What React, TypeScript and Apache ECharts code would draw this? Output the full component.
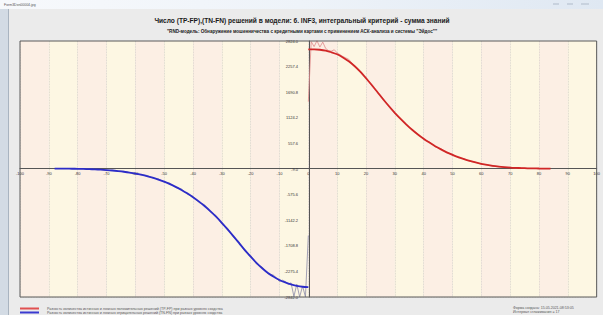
import { useEffect, useRef } from "react";
import * as echarts from "echarts";

const TITLE = "Число (TP-FP),(TN-FN) решений в модели: 6. INF3, интегральный критерий - сумма знаний";
const SUBTITLE = '"RND-модель: Обнаружение мошенничества с кредитными картами с применением АСК-анализа и системы "Эйдос""';
const WINDOW_TITLE = "Form3Dxn00004.jpg";
const LEGEND_RED = "Разность количества истинных и ложных положительных решений (TP-FP) при разных уровнях сходства";
const LEGEND_BLUE = "Разность количества истинных и ложных отрицательных решений (TN-FN) при разных уровнях сходства";
const INFO_1 = "Форма создана: 15.05.2021-08:53:05";
const INFO_2 = "Интервал сглаживания = 17";

// Y axis range / ticks
const Y_MIN = -2842.0;
const Y_MAX = 2824.0;
const Y_STEP = 566.6;

// Smoothed (TP-FP), x = 0..84
const redX = [0, 2, 4, 6, 8, 10, 12, 14, 16, 18, 20, 22, 24, 26, 28, 30, 32, 34, 36, 38, 40, 42, 44, 46, 48, 50, 52, 54, 56, 58, 60, 62, 64, 66, 68, 70, 72, 74, 76, 78, 80, 82, 84];
const redSmooth = [2640, 2640, 2630, 2610, 2575, 2530, 2460, 2375, 2270, 2145, 2000, 1850, 1690, 1530, 1380, 1235, 1100, 975, 860, 755, 660, 575, 495, 425, 360, 305, 255, 210, 170, 135, 105, 80, 60, 45, 33, 23, 16, 11, 7, 4, 2, 1, 0];

// Raw (TP-FP)
const redRawX = [0, 1, 2, 3, 4, 5, 6, 7, 8, 9, 10, 12, 14, 16, 18, 20, 22, 24, 26, 28, 30, 32, 34, 36, 38, 40, 42, 44, 46, 48, 50, 52, 54, 56, 58, 60, 62, 64, 66, 68, 70, 72, 74, 76, 78, 80];
const redRaw = [1480, 2810, 2700, 2830, 2690, 2800, 2660, 2610, 2600, 2630, 2560, 2480, 2420, 2270, 2160, 2030, 1830, 1700, 1550, 1360, 1210, 1110, 990, 850, 770, 640, 590, 480, 440, 350, 320, 240, 220, 160, 140, 95, 85, 50, 50, 25, 28, 10, 12, 4, 2, 0];

// Smoothed (TN-FN), x = -88..0
const blueX = [-88, -86, -84, -82, -80, -78, -76, -74, -72, -70, -68, -66, -64, -62, -60, -58, -56, -54, -52, -50, -48, -46, -44, -42, -40, -38, -36, -34, -32, -30, -28, -26, -24, -22, -20, -18, -16, -14, -12, -10, -8, -6, -4, -2, 0];
const blueSmooth = [0, -1, -2, -3, -5, -8, -12, -17, -24, -32, -42, -55, -70, -88, -110, -136, -166, -202, -243, -290, -343, -404, -472, -548, -632, -725, -828, -940, -1065, -1200, -1345, -1495, -1650, -1805, -1950, -2085, -2205, -2310, -2395, -2465, -2520, -2565, -2595, -2615, -2625];

// Raw (TN-FN)
const blueRawX = [-82, -80, -78, -76, -74, -72, -70, -68, -66, -64, -62, -60, -58, -56, -54, -52, -50, -48, -46, -44, -42, -40, -38, -36, -34, -32, -30, -28, -26, -24, -22, -20, -18, -16, -14, -12, -10, -9, -8, -7, -6, -5, -4, -3, -2, -1, 0];
const blueRaw = [0, -3, -8, -8, -18, -20, -35, -35, -55, -60, -90, -100, -140, -150, -210, -225, -300, -320, -420, -450, -570, -610, -750, -800, -960, -1040, -1230, -1320, -1520, -1620, -1830, -1920, -2110, -2180, -2330, -2360, -2500, -2470, -2500, -2560, -2530, -2830, -2560, -2840, -2600, -2840, -1480];

const pairs = (xs: number[], ys: number[]) => xs.map((x, i) => [x, ys[i]]);

const FONT = "'Liberation Sans', Arial, sans-serif";

export default function App() {
  const ref = useRef<HTMLDivElement>(null);
  useEffect(() => {
    document.body.style.margin = "0";
    if (!ref.current) return;
    const chart = echarts.init(ref.current, undefined, { renderer: "svg" });
    const plotL = 20, plotR = 598, plotT = 41, plotB = 297;
    // pixel positions of the zero lines (axes sit there, labels included)
    const zeroX = plotL + ((0 - -100) / 200) * (plotR - plotL);
    const zeroY = plotT + ((Y_MAX - 0) / (Y_MAX - Y_MIN)) * (plotB - plotT);
    chart.setOption({
      animation: false,
      backgroundColor: "#ebebeb",
      textStyle: { fontFamily: FONT },
      grid: {
        left: plotL,
        right: 603 - plotR,
        top: plotT,
        bottom: 315 - plotB,
        show: true,
        borderColor: "#5a5a5a",
        borderWidth: 1,
        backgroundColor: "transparent",
        z: 3,
      },
      xAxis: {
        type: "value",
        min: -100,
        max: 100,
        interval: 10,
        position: "bottom",
        offset: -(plotB - zeroY),
        axisLine: { onZero: false, lineStyle: { color: "#555", width: 1 } },
        axisTick: { show: false },
        axisLabel: { fontSize: 4, color: "#333", margin: 3, fontFamily: FONT, showMinLabel: true, showMaxLabel: true },
        splitLine: { show: true, lineStyle: { color: "#d4cfc8", type: "dotted", width: 0.8 } },
        splitArea: { show: true, areaStyle: { color: ["#fcefe4", "#fdf7e3"] } },
      },
      yAxis: {
        type: "value",
        min: Y_MIN,
        max: Y_MAX,
        interval: Y_STEP,
        position: "left",
        offset: -(zeroX - plotL),
        axisLine: { onZero: false, lineStyle: { color: "#555", width: 1 } },
        axisTick: { show: false },
        axisLabel: {
          fontSize: 4,
          color: "#333",
          margin: 11,
          fontFamily: FONT,
          showMinLabel: true,
          showMaxLabel: true,
          formatter: (v: number) => v.toFixed(1),
        },
        splitLine: { show: true, lineStyle: { color: "#d4cfc8", type: "dotted", width: 0.8 } },
      },
      series: [
        {
          type: "line",
          data: pairs(redRawX, redRaw),
          showSymbol: false,
          lineStyle: { color: "#e08a8a", width: 0.8 },
          z: 2,
        },
        {
          type: "line",
          data: pairs(blueRawX, blueRaw),
          showSymbol: false,
          lineStyle: { color: "#8a8aa8", width: 0.8 },
          z: 2,
        },
        {
          type: "line",
          data: pairs(redX, redSmooth),
          showSymbol: false,
          smooth: 0.3,
          lineStyle: { color: "#d02626", width: 1.8 },
          z: 4,
        },
        {
          type: "line",
          data: pairs(blueX, blueSmooth),
          showSymbol: false,
          smooth: 0.3,
          lineStyle: { color: "#2c2cc8", width: 1.8 },
          z: 4,
        },
      ],
      graphic: [
        {
          type: "rect",
          shape: { x: 0, y: 0, width: 603, height: 9 },
          style: {
            fill: new echarts.graphic.LinearGradient(0, 0, 1, 0, [
              { offset: 0, color: "#f7f9fc" },
              { offset: 0.5, color: "#eef3f9" },
              { offset: 1, color: "#dfe8f2" },
            ]),
          },
          silent: true,
        },
        {
          type: "text",
          x: 4,
          y: 4.5,
          style: { text: WINDOW_TITLE, fontSize: 3.5, fill: "#555", verticalAlign: "middle", fontFamily: FONT },
          silent: true,
        },
        { type: "rect", shape: { x: 553, y: 3, width: 6, height: 2 }, style: { fill: "#c8d2de" }, silent: true },
        { type: "rect", shape: { x: 567, y: 3, width: 6, height: 2 }, style: { fill: "#c8d2de" }, silent: true },
        { type: "rect", shape: { x: 581, y: 3, width: 8, height: 2 }, style: { fill: "#c8d2de" }, silent: true },
        {
          type: "rect",
          shape: { x: 0, y: 9, width: 8, height: 306 },
          style: { fill: "#d3dbe4" },
          silent: true,
        },
        {
          type: "line",
          shape: { x1: 8.5, y1: 9, x2: 8.5, y2: 315 },
          style: { stroke: "#a9b4c0", lineWidth: 1 },
          silent: true,
        },
        {
          type: "text",
          x: 302,
          y: 20,
          style: {
            text: TITLE,
            fontSize: 6.6,
            fontWeight: "bold",
            fill: "#1a1a1a",
            align: "center",
            verticalAlign: "middle",
            fontFamily: FONT,
          },
          silent: true,
        },
        {
          type: "text",
          x: 302,
          y: 31,
          style: {
            text: SUBTITLE,
            fontSize: 4.6,
            fontWeight: "bold",
            fill: "#1a1a1a",
            align: "center",
            verticalAlign: "middle",
            fontFamily: FONT,
          },
          silent: true,
        },
        {
          type: "line",
          shape: { x1: 20, y1: 308.5, x2: 39, y2: 308.5 },
          style: { stroke: "#e05050", lineWidth: 2 },
          silent: true,
        },
        {
          type: "line",
          shape: { x1: 20, y1: 312.5, x2: 39, y2: 312.5 },
          style: { stroke: "#3a3ad0", lineWidth: 2 },
          silent: true,
        },
        {
          type: "text",
          x: 47,
          y: 308.5,
          style: { text: LEGEND_RED, fontSize: 3.6, fill: "#555", verticalAlign: "middle", fontFamily: FONT },
          silent: true,
        },
        {
          type: "text",
          x: 47,
          y: 312.5,
          style: { text: LEGEND_BLUE, fontSize: 3.6, fill: "#555", verticalAlign: "middle", fontFamily: FONT },
          silent: true,
        },
        {
          type: "text",
          x: 513,
          y: 307.5,
          style: { text: INFO_1, fontSize: 3.6, fill: "#555", verticalAlign: "middle", fontFamily: FONT },
          silent: true,
        },
        {
          type: "text",
          x: 513,
          y: 311.5,
          style: { text: INFO_2, fontSize: 3.6, fill: "#555", verticalAlign: "middle", fontFamily: FONT },
          silent: true,
        },
      ],
    });
    return () => chart.dispose();
  }, []);
  return <div ref={ref} style={{ position: "fixed", left: 0, top: 0, width: 603, height: 315 }} />;
}
